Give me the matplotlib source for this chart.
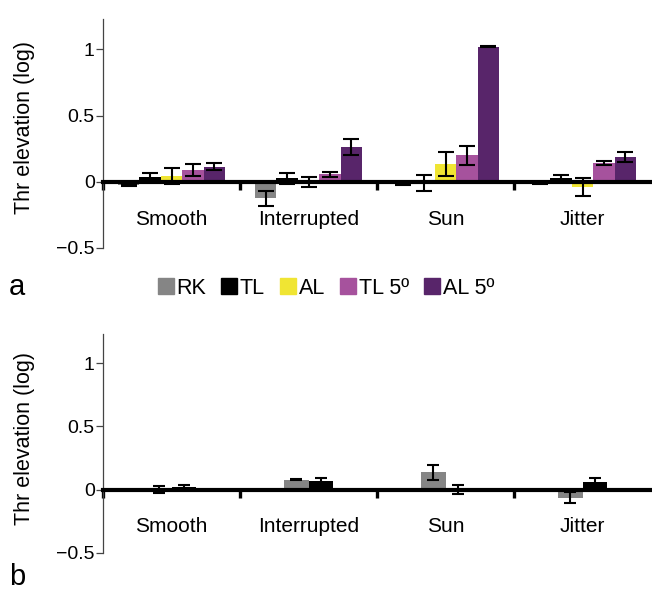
import matplotlib.pyplot as plt
import numpy as np

plt.rcParams['font.family'] = ['Liberation Sans', 'DejaVu Sans']

categories = ["Smooth", "Interrupted", "Sun", "Jitter"]
series_a = ["RK", "TL", "AL", "TL 5º", "AL 5º"]
colors = {"RK": "#858585", "TL": "#000000", "AL": "#F0E533",
          "TL 5º": "#A6529D", "AL 5º": "#58256A"}

# panel a: mean and error per condition
a_mean = {
    "RK":    [-0.025, -0.125, -0.018, -0.013],
    "TL":    [0.040, 0.025, -0.008, 0.025],
    "AL":    [0.045, 0.000, 0.135, -0.040],
    "TL 5º": [0.090, 0.057, 0.200, 0.140],
    "AL 5º": [0.113, 0.265, 1.020, 0.185],
}
a_err = {
    "RK":    [0.005, 0.055, 0.005, 0.003],
    "TL":    [0.030, 0.040, 0.062, 0.025],
    "AL":    [0.062, 0.038, 0.092, 0.068],
    "TL 5º": [0.048, 0.017, 0.070, 0.016],
    "AL 5º": [0.027, 0.060, 0.004, 0.038],
}

# panel b: only RK and TL
series_b = ["RK", "TL"]
b_mean = {
    "RK": [0.005, 0.078, 0.136, -0.062],
    "TL": [0.025, 0.065, 0.000, 0.060],
}
b_err = {
    "RK": [0.028, 0.004, 0.056, 0.045],
    "TL": [0.010, 0.027, 0.038, 0.032],
}

fig = plt.figure(figsize=(6.52, 5.93), dpi=100)
ax_a = fig.add_axes([0.158, 0.5818, 0.8405, 0.3862])
ax_b = fig.add_axes([0.158, 0.0675, 0.8405, 0.3693])

x = np.arange(len(categories))


def draw_panel(ax, series, mean, err, width, capsize):
    n = len(series)
    for i, s in enumerate(series):
        pos = x + (i - (n - 1) / 2) * width
        ax.bar(pos, mean[s], width=width, color=colors[s], zorder=1)
        ax.errorbar(pos, mean[s], yerr=err[s], fmt='none', ecolor='black',
                    elinewidth=1.5, capsize=capsize, capthick=1.5, zorder=3)

    ax.set_xlim(-0.5, 3.5)
    ax.set_ylim(-0.5, 1.23)
    ax.spines['top'].set_visible(False)
    ax.spines['right'].set_visible(False)
    ax.spines['bottom'].set_position(('data', 0))
    ax.spines['bottom'].set_linewidth(3)
    ax.spines['left'].set_color('#444444')
    ax.spines['left'].set_linewidth(0.9)

    ax.set_yticks([-0.5, 0, 0.5, 1])
    ax.set_yticklabels(['\u22120.5', '0', '0.5', '1'])
    ax.tick_params(axis='y', length=5, width=0.9, color='#444444',
                   labelsize=14, pad=1)

    ax.set_xticks(x)
    ax.set_xticklabels(categories)
    ax.set_xticks(np.arange(-0.5, 3.5, 1), minor=True)
    ax.tick_params(axis='x', which='major', length=0, labelsize=15, pad=20)
    ax.tick_params(axis='x', which='minor', length=6, width=2.4,
                   direction='out', color='black')
    ax.set_ylabel('Thr elevation (log)', fontsize=15.5)
    ax.yaxis.set_label_coords(-0.125, 0.524)


draw_panel(ax_a, series_a, a_mean, a_err, 0.156, 6)
draw_panel(ax_b, series_b, b_mean, b_err, 0.18, 4.5)

fig.text(0.014, 0.516, 'a', fontsize=21, va='center', ha='left')
fig.text(0.014, 0.027, 'b', fontsize=21, va='center', ha='left')

handles = [plt.Rectangle((0, 0), 1, 1, color=colors[s]) for s in series_a]
fig.legend(handles, series_a, loc='center', bbox_to_anchor=(0.5, 0.514),
           ncol=5, frameon=False, fontsize=15.5, handlelength=0.75,
           handleheight=0.75, handletextpad=0.12, columnspacing=0.7)

fig.savefig('out.png', dpi=100)
